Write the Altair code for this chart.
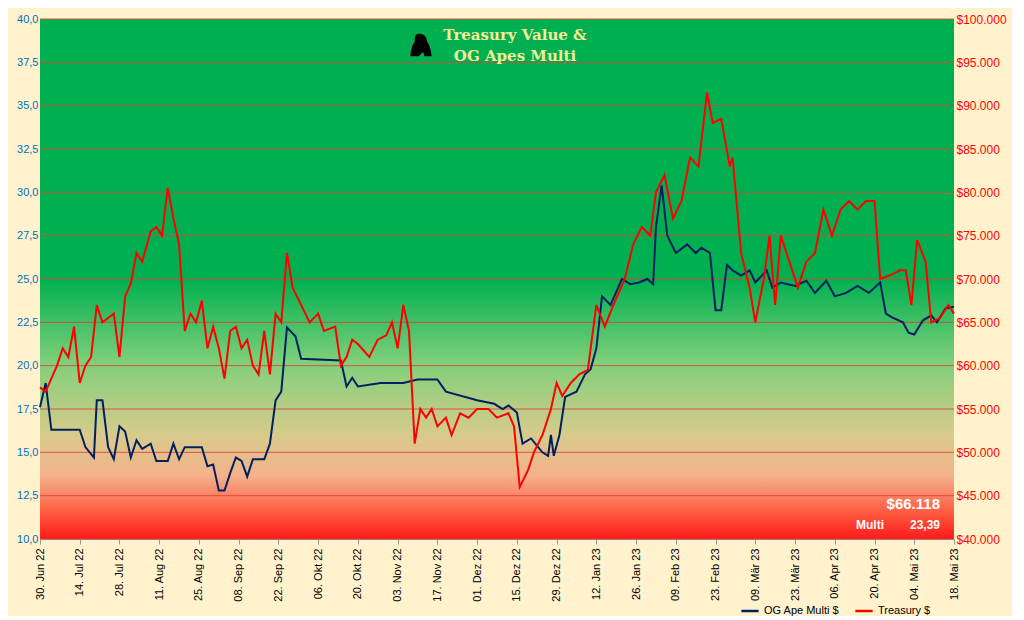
import altair as alt
import pandas as pd

multi_dates = ["2022-06-30","2022-07-02","2022-07-04","2022-07-14","2022-07-16","2022-07-19","2022-07-20","2022-07-22","2022-07-24","2022-07-26","2022-07-28","2022-07-30","2022-08-01","2022-08-03","2022-08-05","2022-08-08","2022-08-10","2022-08-14","2022-08-16","2022-08-18","2022-08-20","2022-08-26","2022-08-28","2022-08-30","2022-09-01","2022-09-03","2022-09-05","2022-09-07","2022-09-09","2022-09-11","2022-09-13","2022-09-17","2022-09-19","2022-09-21","2022-09-23","2022-09-25","2022-09-28","2022-09-30","2022-10-14","2022-10-16","2022-10-18","2022-10-20","2022-10-28","2022-11-05","2022-11-10","2022-11-17","2022-11-20","2022-12-01","2022-12-07","2022-12-10","2022-12-12","2022-12-15","2022-12-17","2022-12-20","2022-12-24","2022-12-26","2022-12-27","2022-12-28","2022-12-30","2023-01-01","2023-01-05","2023-01-08","2023-01-10","2023-01-12","2023-01-14","2023-01-17","2023-01-21","2023-01-24","2023-01-27","2023-01-30","2023-02-01","2023-02-02","2023-02-04","2023-02-06","2023-02-09","2023-02-13","2023-02-16","2023-02-18","2023-02-21","2023-02-23","2023-02-25","2023-02-27","2023-03-01","2023-03-04","2023-03-07","2023-03-09","2023-03-13","2023-03-15","2023-03-18","2023-03-23","2023-03-27","2023-03-30","2023-04-03","2023-04-06","2023-04-10","2023-04-14","2023-04-18","2023-04-22","2023-04-24","2023-04-26","2023-04-30","2023-05-02","2023-05-04","2023-05-07","2023-05-10","2023-05-12","2023-05-15","2023-05-18"]
multi_vals = [17.6,19,16.3,16.3,15.3,14.7,18,18,15.3,14.6,16.5,16.2,14.7,15.7,15.2,15.5,14.5,14.5,15.5,14.6,15.3,15.3,14.2,14.3,12.8,12.8,13.8,14.7,14.5,13.6,14.6,14.6,15.5,18,18.5,22.2,21.7,20.4,20.3,18.8,19.3,18.8,19,19,19.2,19.2,18.5,18,17.8,17.5,17.7,17.3,15.5,15.8,15.0,14.8,16,14.8,16,18.2,18.5,19.5,19.8,21,24,23.5,25,24.7,24.8,25,24.7,28,30.4,27.5,26.5,27,26.5,26.8,26.5,23.2,23.2,25.8,25.5,25.2,25.5,24.8,25.5,24.5,24.8,24.6,24.9,24.2,24.9,24,24.2,24.6,24.2,24.8,23,22.8,22.5,21.9,21.8,22.6,22.9,22.5,23.3,23.4]

treas_dates = ["2022-06-30","2022-07-02","2022-07-04","2022-07-06","2022-07-08","2022-07-10","2022-07-12","2022-07-14","2022-07-16","2022-07-18","2022-07-20","2022-07-22","2022-07-24","2022-07-26","2022-07-28","2022-07-30","2022-08-01","2022-08-03","2022-08-05","2022-08-08","2022-08-10","2022-08-12","2022-08-14","2022-08-16","2022-08-18","2022-08-20","2022-08-22","2022-08-24","2022-08-26","2022-08-28","2022-08-30","2022-09-01","2022-09-03","2022-09-05","2022-09-07","2022-09-09","2022-09-11","2022-09-13","2022-09-15","2022-09-17","2022-09-19","2022-09-21","2022-09-23","2022-09-25","2022-09-27","2022-09-30","2022-10-03","2022-10-06","2022-10-08","2022-10-12","2022-10-14","2022-10-16","2022-10-18","2022-10-20","2022-10-24","2022-10-27","2022-10-30","2022-11-01","2022-11-03","2022-11-05","2022-11-07","2022-11-09","2022-11-11","2022-11-13","2022-11-15","2022-11-17","2022-11-20","2022-11-22","2022-11-25","2022-11-28","2022-12-01","2022-12-05","2022-12-08","2022-12-12","2022-12-14","2022-12-16","2022-12-19","2022-12-21","2022-12-24","2022-12-27","2022-12-29","2022-12-31","2023-01-03","2023-01-06","2023-01-09","2023-01-12","2023-01-15","2023-01-18","2023-01-22","2023-01-25","2023-01-28","2023-01-31","2023-02-02","2023-02-05","2023-02-08","2023-02-11","2023-02-14","2023-02-17","2023-02-20","2023-02-22","2023-02-25","2023-02-28","2023-03-01","2023-03-04","2023-03-07","2023-03-09","2023-03-12","2023-03-14","2023-03-16","2023-03-18","2023-03-21","2023-03-24","2023-03-27","2023-03-30","2023-04-02","2023-04-05","2023-04-08","2023-04-11","2023-04-14","2023-04-17","2023-04-20","2023-04-22","2023-04-26","2023-04-29","2023-05-01","2023-05-03","2023-05-05","2023-05-08","2023-05-10","2023-05-13","2023-05-16","2023-05-18"]
treas_vals = [57.5,57,58.5,60,62,61,64.5,58,60,61,67,65,65.5,66,61,68,69.5,73,72,75.5,76,75,80.5,77,74,64,66,65,67.5,62,64.5,62,58.5,64,64.5,62,63,60,59,64,59,66,65,73,69,67,65,66,64,64.5,60,61,63,62.5,61,63,63.5,65,62,67,64,51,55,54,55,53,54,52,54.5,54,55,55,54,54.5,53,46,48,50,52,55,58,56.5,58,59,59.5,67,64.5,67,70,74,76,75,80,82,77,79,84,83,91.5,88,88.5,83,84,73,69,65,70,75,67,75,72,69,72,73,78,75,78,79,78,79,79,70,70.5,71,71,67,74.5,72,65,65.5,67,66]
treas_vals = [v * 1000 for v in treas_vals]

grid_vals = [10 + 2.5 * i for i in range(13)]
tick_dates = [d.strftime("%Y-%m-%d") for d in pd.date_range("2022-06-30", "2023-05-18", freq="14D")]

df = pd.concat([
    pd.DataFrame({"date": multi_dates, "multi": multi_vals, "serie": "OG Ape Multi $"}),
    pd.DataFrame({"date": treas_dates, "treasury": treas_vals, "serie": "Treasury $"}),
])

W, H = 914, 520
months = "['Jan','Feb','Mär','Apr','Mai','Jun','Jul','Aug','Sep','Okt','Nov','Dez']"
xscale = alt.Scale(type="utc", domain=["2022-06-30", "2023-05-18"])
xaxis = alt.Axis(values=[pd.Timestamp(d).value // 10**6 for d in tick_dates], labelAngle=-90, labelOverlap=False,
                 tickCount=len(tick_dates), labelBound=False,
                 labelExpr="utcFormat(datum.value,'%d') + '. ' + " + months + "[utcmonth(datum.value)] + ' ' + utcFormat(datum.value,'%y')",
                 labelColor="black", labelFontSize=11, grid=False, domainColor="#999", tickColor="#999", labelPadding=4)
colors = alt.Scale(domain=["OG Ape Multi $", "Treasury $"], range=["#002060", "#ff0000"])
yscale = alt.Scale(domain=[10, 40], nice=False)

bg = alt.Chart(pd.DataFrame({"a": [0]})).mark_rect(
    color=alt.Gradient(gradient="linear", x1=0, x2=0, y1=0, y2=1, stops=[
        alt.GradientStop(color="#00b050", offset=0),
        alt.GradientStop(color="#00b050", offset=0.5),
        alt.GradientStop(color="#7fcf7a", offset=0.66),
        alt.GradientStop(color="#d8cb8c", offset=0.8),
        alt.GradientStop(color="#f5b08a", offset=0.88),
        alt.GradientStop(color="#ff5a40", offset=0.95),
        alt.GradientStop(color="#ff1a1a", offset=1),
    ])).encode(x=alt.value(0), x2=alt.value(W), y=alt.value(0), y2=alt.value(H))

grid = alt.Chart(pd.DataFrame({"g": grid_vals})).mark_rule(color="#e0403a", strokeWidth=1, opacity=0.85).encode(
    y=alt.Y("g:Q", scale=yscale, axis=None))

multi = alt.Chart(df).transform_filter("isValid(datum.multi)").mark_line(strokeWidth=2).encode(
    x=alt.X("date:T", scale=xscale, axis=xaxis, title=None),
    y=alt.Y("multi:Q", scale=yscale, title=None,
            axis=alt.Axis(values=grid_vals, labelExpr="replace(format(datum.value,'.1f'),'.',',')", grid=False,
                          labelColor="#0070c0", domain=False, ticks=False, labelFontSize=11)),
    color=alt.Color("serie:N", scale=colors, legend=alt.Legend(title=None, orient="none", legendX=700, legendY=H + 62,
                    direction="horizontal", symbolType="stroke", symbolStrokeWidth=2.5, labelFontSize=11, symbolSize=300)))

treas = alt.Chart(df).transform_filter("isValid(datum.treasury)").mark_line(strokeWidth=2).encode(
    x=alt.X("date:T", scale=xscale, axis=xaxis, title=None),
    y=alt.Y("treasury:Q", scale=alt.Scale(domain=[40000, 100000], nice=False), title=None,
            axis=alt.Axis(orient="right", values=[40000 + 5000 * i for i in range(13)], grid=False,
                          labelExpr="'$' + replace(format(datum.value,','),',','.')",
                          labelColor="#ff0000", domain=False, ticks=False, labelFontSize=12)),
    color=alt.Color("serie:N", scale=colors))

title = alt.Chart(pd.DataFrame({"t": ["Treasury Value &", "OG Apes Multi"], "y": [16, 37]})).mark_text(
    font="DejaVu Serif", fontWeight="bold", fontSize=15, color="#f5eb9a").encode(
    text="t:N", x=alt.value(W / 2 + 18), y=alt.Y("y:Q", scale=None))

gorilla = "M-0.2,-1 C0.3,-1.05 0.5,-0.7 0.55,-0.3 C0.8,0 0.9,0.5 0.95,1 L0.3,1 L0.2,0.6 L-0.2,1 L-0.95,1 C-0.9,0.4 -0.8,0 -0.55,-0.3 C-0.6,-0.7 -0.5,-1 -0.2,-1 Z"
gor = alt.Chart(pd.DataFrame({"a": [0]})).mark_point(shape=gorilla, filled=True, color="black", size=500, opacity=1).encode(
    x=alt.value(W / 2 - 76), y=alt.value(26))

stats = alt.Chart(pd.DataFrame({"t": ["$66.118", "23,39", "Multi"], "x": [W - 14, W - 14, W - 70],
                                "y": [H - 35, H - 14, H - 14], "s": [15, 12, 12]})).mark_text(
    align="right", fontWeight="bold", color="white", font="Liberation Sans").encode(
    text="t:N", x=alt.X("x:Q", scale=None), y=alt.Y("y:Q", scale=None), size=alt.Size("s:Q", scale=None, legend=None))

chart = alt.layer(bg, grid, multi, treas, title, gor, stats).resolve_scale(y="independent", size="independent").properties(
    width=W, height=H, background="#fff2cc", padding={"top": 5, "left": 8, "right": 5, "bottom": 0}
).configure_view(stroke=None).configure_axis(labelFont="Liberation Sans").configure_legend(labelFont="Liberation Sans")

chart.save("out.html", embed_options={"renderer": "svg", "actions": False})
